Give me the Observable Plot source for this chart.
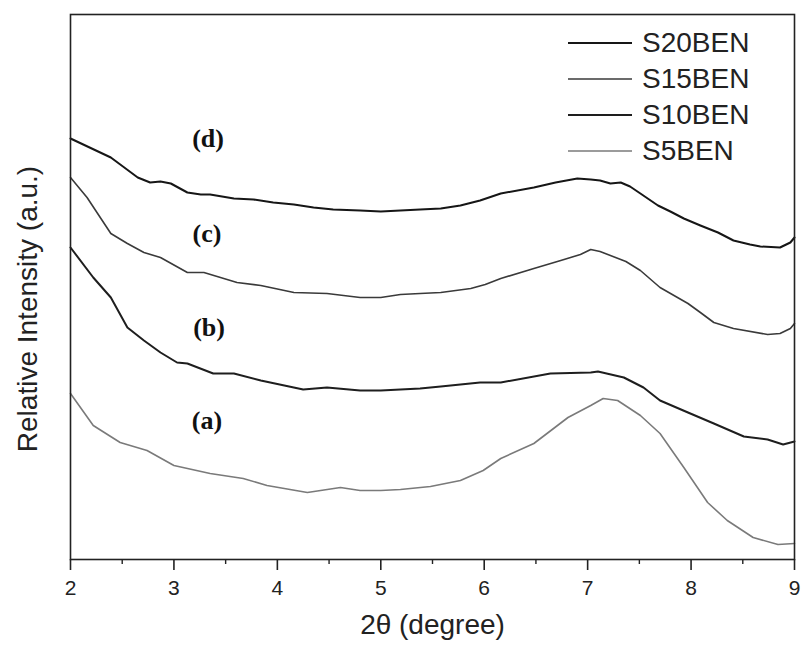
<!DOCTYPE html>
<html>
<head>
<meta charset="utf-8">
<script src="https://cdn.jsdelivr.net/npm/d3@7"></script>
<script src="https://cdn.jsdelivr.net/npm/@observablehq/plot@0.6"></script>
<style>
  html, body { margin: 0; padding: 0; background: #fff; }
  #wrap { position: relative; width: 802px; height: 648px; font-family: "Liberation Sans", Arial, sans-serif; }
  #legend { position: absolute; left: 568px; top: 25px; }
  .row { display: flex; align-items: center; height: 36px; }
  .sw { width: 64px; margin-right: 10px; }
  .lab { font-size: 28px; color: #222; line-height: 36px; }
</style>
</head>
<body>
<div id="wrap"><div id="legend"></div></div>
<script>
// Series names
const seriesNames = ["S20BEN", "S15BEN", "S10BEN", "S5BEN"];
const curveLabels = ["(d)", "(c)", "(b)", "(a)"];
const labelX = [3.33, 3.32, 3.34, 3.32];
const labelY = [421, 326, 232, 139];

// S20BEN (d)
const s20x = [2.00,2.39,2.65,2.77,2.87,2.97,3.13,3.26,3.35,3.58,3.77,3.96,4.16,4.35,4.54,4.80,5.00,5.19,5.38,5.58,5.77,5.96,6.16,6.48,6.69,6.90,7.03,7.12,7.22,7.32,7.41,7.51,7.68,7.80,7.93,8.09,8.26,8.41,8.57,8.67,8.86,8.96,9.00];
const s20y = [421,402,382,377,378,376,367,365,365,361,360,357,355,352,350,349,348,349,350,351,354,359,366,372,377,381,380,379,376,377,373,366,354,348,341,334,327,319,315,313,312,317,322];

// S15BEN (c)
const s15x = [2.00,2.16,2.39,2.55,2.71,2.87,3.13,3.29,3.45,3.61,3.84,4.16,4.48,4.80,5.00,5.19,5.38,5.58,5.87,6.01,6.16,6.48,6.74,6.93,7.03,7.12,7.22,7.37,7.51,7.70,7.97,8.09,8.22,8.41,8.74,8.86,8.96,9.00];
const s15y = [382,362,326,316,307,302,287,287,282,277,274,267,266,262,262,265,266,267,271,275,281,291,299,305,310,308,304,298,289,272,256,247,237,231,225,226,231,236];

// S10BEN (b)
const s10x = [2.00,2.22,2.39,2.55,2.71,2.87,3.03,3.13,3.38,3.58,3.84,4.25,4.48,4.80,5.00,5.19,5.38,5.58,5.77,5.96,6.16,6.64,7.03,7.10,7.35,7.54,7.70,7.97,8.22,8.51,8.74,8.89,9.00];
const s10y = [312,282,262,232,219,207,197,196,186,186,179,170,172,169,169,170,171,173,175,177,177,186,187,188,182,172,159,147,136,123,120,115,118];

// S5BEN (a)
const s5x = [2.00,2.22,2.48,2.74,3.00,3.35,3.67,3.90,4.29,4.61,4.80,5.00,5.19,5.48,5.77,5.99,6.16,6.48,6.81,7.03,7.15,7.29,7.51,7.70,7.93,8.16,8.35,8.60,8.84,9.00];
const s5y = [166,134,117,109,94,86,81,74,67,72,69,69,70,73,79,89,101,116,142,154,161,159,144,126,92,57,39,22,15,16];

const xTicks = [2,3,4,5,6,7,8,9];
const xMinor = [2.5,3.5,4.5,5.5,6.5,7.5,8.5];
const xTitle = "2θ (degree)";
const yTitle = "Relative Intensity (a.u.)";

const styles = [
  {stroke: "#161616", strokeWidth: 2},
  {stroke: "#3a3a3a", strokeWidth: 1.6},
  {stroke: "#1e1e1e", strokeWidth: 2},
  {stroke: "#7a7a7a", strokeWidth: 1.6}
];

const xs = [s20x, s15x, s10x, s5x];
const ys = [s20y, s15y, s10y, s5y];
const rows = seriesNames.flatMap((name, k) => xs[k].map((x, i) => ({name, x, y: ys[k][i]})));

const chart = Plot.plot({
  width: 802,
  height: 648,
  marginLeft: 70,
  marginRight: 8,
  marginTop: 14,
  marginBottom: 89,
  style: {fontFamily: "'Liberation Sans', Arial, sans-serif", color: "#222", background: "transparent"},
  x: {domain: [2, 9]},
  y: {domain: [0, 545], axis: null},
  marks: [
    ...seriesNames.map((name, k) => Plot.line(rows.filter(r => r.name === name), {x: "x", y: "y", ...styles[k], strokeLinejoin: "round"})),
    Plot.frame({stroke: "#222", strokeWidth: 1.6}),
    Plot.axisX(xTicks, {tickSize: 11, tickPadding: 10, fontSize: 21, label: null, stroke: "#222", strokeWidth: 1.6, tickFormat: d => String(d)}),
    Plot.axisX(xMinor, {tickSize: 5, label: null, tickFormat: () => "", stroke: "#222", strokeWidth: 1.4}),
    Plot.text(curveLabels.map((t, i) => ({t, x: labelX[i], y: labelY[i]})), {x: "x", y: "y", text: "t", fontFamily: "'Liberation Serif', 'Times New Roman', serif", fontWeight: "bold", fontSize: 26, fill: "#111"}),
    Plot.text([xTitle], {frameAnchor: "bottom", textAnchor: "middle", dy: 74, fontSize: 28, fill: "#222"}),
    Plot.text([yTitle], {frameAnchor: "left", textAnchor: "middle", rotate: -90, dx: -42, dy: 22, fontSize: 28, fill: "#222"})
  ]
});

const wrap = document.getElementById("wrap");
wrap.insertBefore(chart, wrap.firstChild);

const legend = document.getElementById("legend");
seriesNames.forEach((name, k) => {
  const row = document.createElement("div");
  row.className = "row";
  row.innerHTML = `<svg class="sw" width="64" height="6"><line x1="0" x2="64" y1="3" y2="3" stroke="${styles[k].stroke}" stroke-width="${styles[k].strokeWidth}"/></svg><span class="lab">${name}</span>`;
  legend.appendChild(row);
});
</script>
</body>
</html>
